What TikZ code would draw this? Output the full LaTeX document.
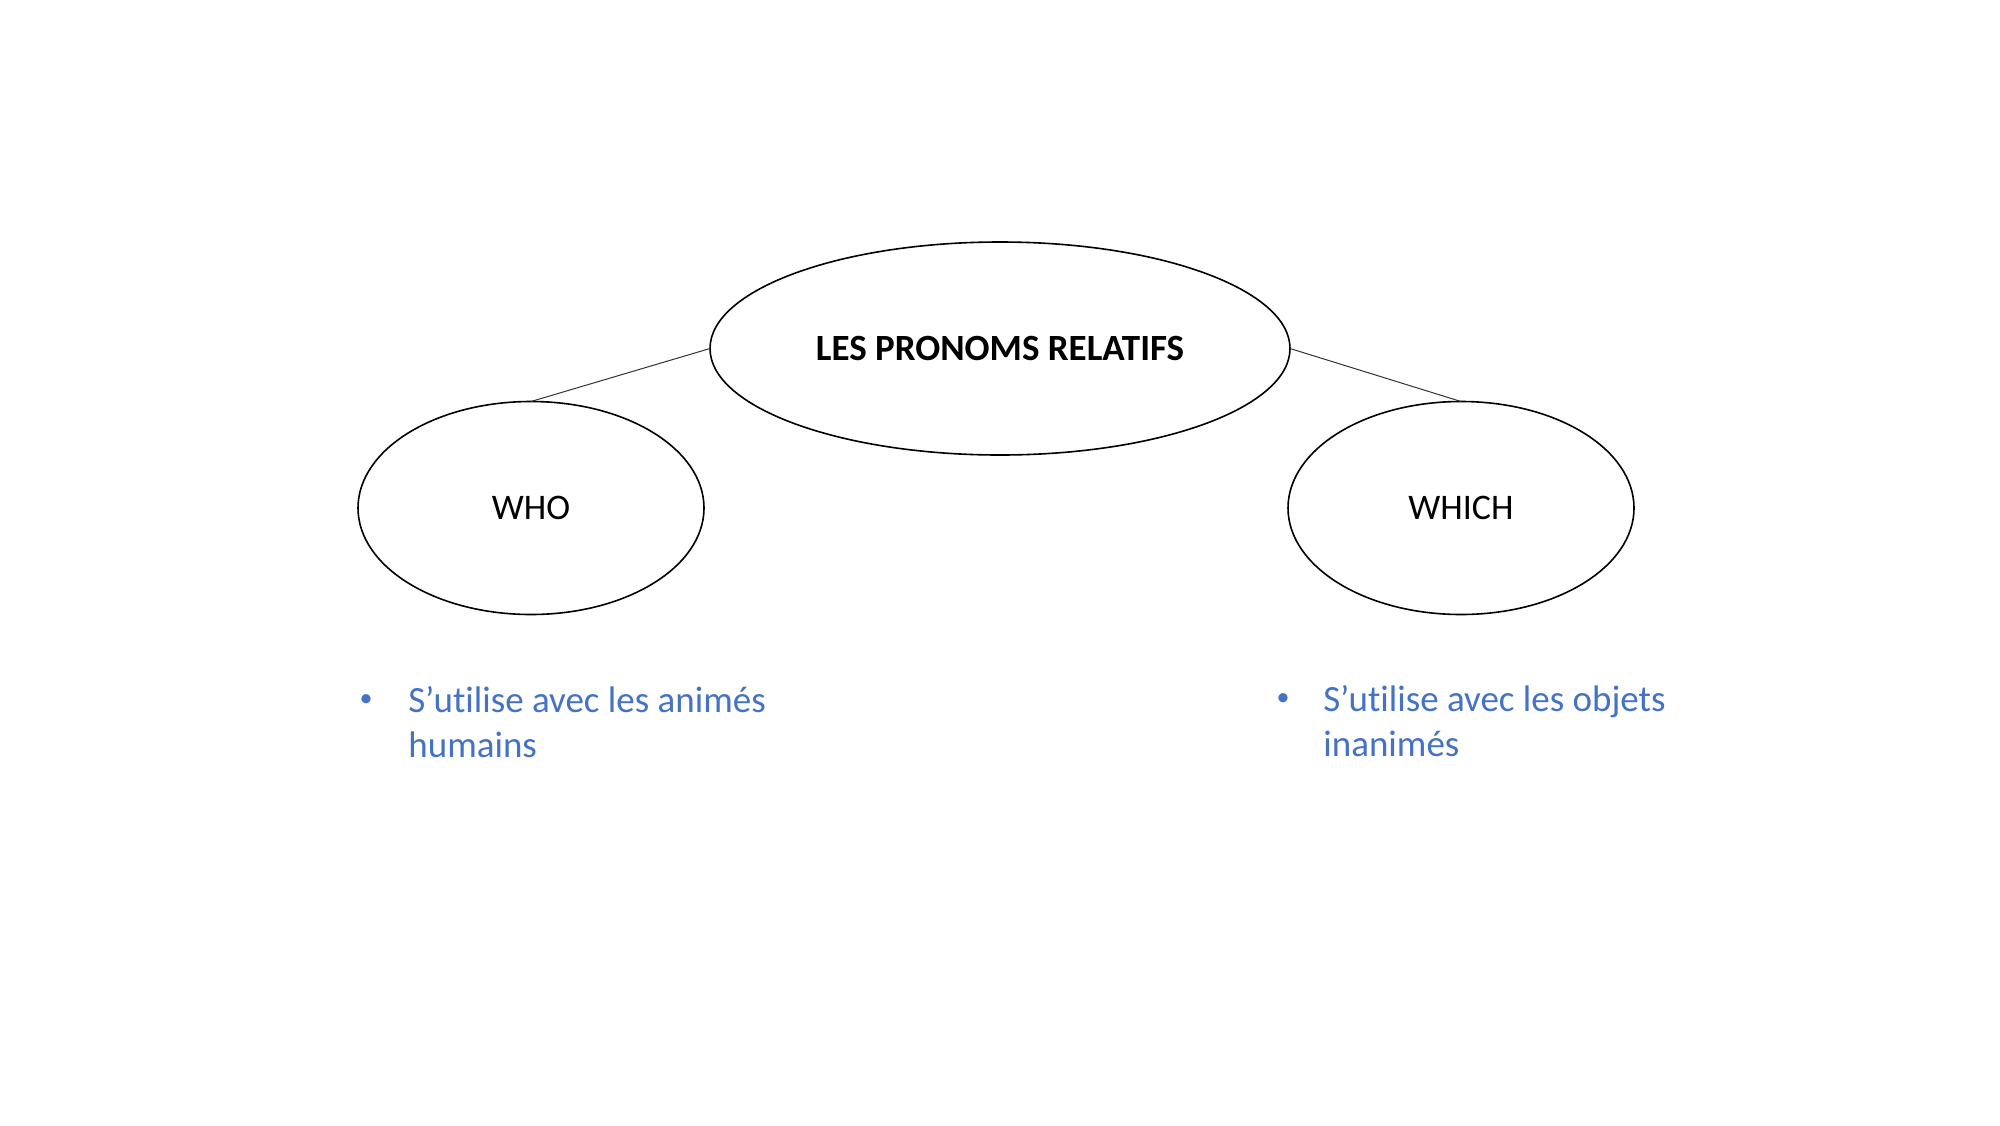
\documentclass[tikz,border=0pt]{standalone}
\usepackage{fontspec}
\setmainfont{Carlito}[Ligatures=NoCommon]
\usetikzlibrary{shapes.geometric}
\definecolor{bluetxt}{RGB}{68,114,196}
\begin{document}
\begin{tikzpicture}[x=0.5pt,y=-0.5pt,
  bubble/.style={ellipse,draw=black,line width=0.8pt,inner sep=0pt,outer sep=0pt,font=\fontsize{18}{21.6}\selectfont},
  link/.style={draw=black!80,line width=0.5pt},
  bullettext/.style={anchor=base west,inner sep=0pt,text=bluetxt,font=\fontsize{18.5}{22.2}\selectfont},
  bulletdot/.style={anchor=base,inner sep=0pt,text=bluetxt,yshift=3pt,font=\fontsize{13}{15}\selectfont}]
\useasboundingbox[fill=white] (0,0) rectangle (2000,1125);
\node[bubble,minimum width=290pt,minimum height=106.5pt,font=\fontsize{18.5}{22}\selectfont\bfseries] (root) at (1000,348.5) {LES PRONOMS RELATIFS};
\node[bubble,minimum width=173pt,minimum height=106.5pt] (who) at (531,508) {WHO};
\node[bubble,minimum width=173pt,minimum height=106.5pt] (which) at (1461,508) {WHICH};
\draw[link] (root.west) -- (who.north);
\draw[link] (root.east) -- (which.north);
\node[bulletdot] (whob) at (366,712) {•};
\node[bullettext] (whol1) at (408,712) {S’utilise avec les animés};
\node[bullettext] (whol2) at (408,757) {humains};
\node[bulletdot] (whichb) at (1283,711) {•};
\node[bullettext] (whichl1) at (1323,711) {S’utilise avec les objets};
\node[bullettext] (whichl2) at (1323,756) {inanimés};
\end{tikzpicture}
\end{document}
